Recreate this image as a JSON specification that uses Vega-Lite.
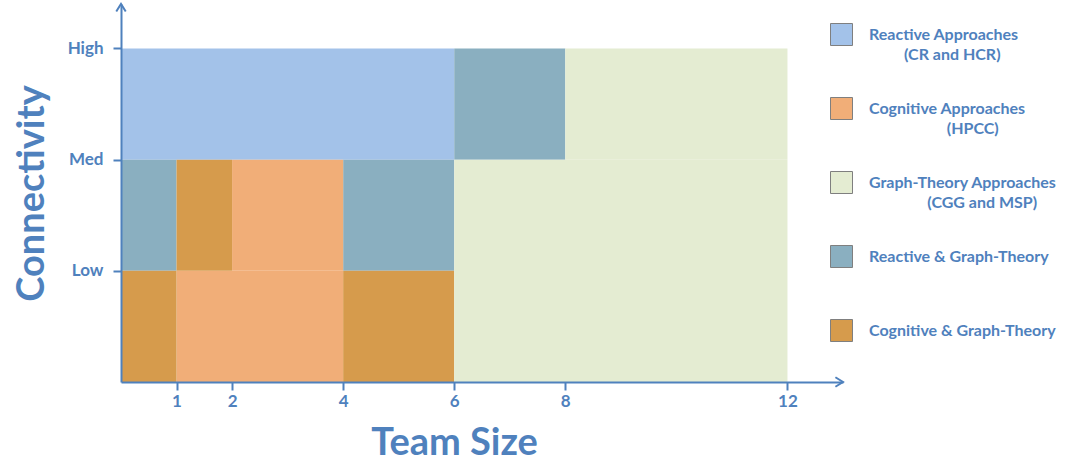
{
  "$schema": "https://vega.github.io/schema/vega-lite/v6.json",
  "autosize": "none",
  "width": 722,
  "height": 378,
  "padding": {"left": 121, "top": 4, "right": 235, "bottom": 80},
  "background": "white",
  "config": {"view": {"stroke": null}, "font": "Lato", "style": {"guide-label": {"lineHeight": 20}}},
  "layer": [
    {
      "data": {"values": [
        {"approach": "Reactive Approaches (CR and HCR)", "x0": 0, "x1": 6, "y0": 2, "y1": 3},
        {"approach": "Reactive & Graph-Theory", "x0": 6, "x1": 8, "y0": 2, "y1": 3},
        {"approach": "Reactive & Graph-Theory", "x0": 0, "x1": 1, "y0": 1, "y1": 2},
        {"approach": "Reactive & Graph-Theory", "x0": 4, "x1": 6, "y0": 1, "y1": 2},
        {"approach": "Cognitive Approaches (HPCC)", "x0": 2, "x1": 4, "y0": 1, "y1": 2},
        {"approach": "Cognitive Approaches (HPCC)", "x0": 1, "x1": 4, "y0": 0, "y1": 1},
        {"approach": "Cognitive & Graph-Theory", "x0": 1, "x1": 2, "y0": 1, "y1": 2},
        {"approach": "Cognitive & Graph-Theory", "x0": 0, "x1": 1, "y0": 0, "y1": 1},
        {"approach": "Cognitive & Graph-Theory", "x0": 4, "x1": 6, "y0": 0, "y1": 1},
        {"approach": "Graph-Theory Approaches (CGG and MSP)", "x0": 8, "x1": 12, "y0": 2, "y1": 3},
        {"approach": "Graph-Theory Approaches (CGG and MSP)", "x0": 6, "x1": 12, "y0": 0, "y1": 2}
      ]},
      "mark": {"type": "rect", "strokeWidth": 0},
      "encoding": {
        "x": {"field": "x0", "type": "quantitative", "title": "Team Size",
          "scale": {"domain": [0, 13], "nice": false, "zero": true},
          "axis": {"values": [1, 2, 4, 6, 8, 12], "format": "d", "grid": false, "zindex": 1,
            "domainColor": "#4F81BD", "domainWidth": 2, "tickColor": "#4F81BD", "tickWidth": 2, "tickSize": 8,
            "labelFont": "Lato", "labelFontWeight": "bold", "labelFontSize": 17, "labelColor": "#4F81BD", "labelPadding": 3,
            "titleFont": "Lato", "titleFontWeight": "bold", "titleFontSize": 38, "titleColor": "#4F81BD",
            "titleX": 333, "titleY": 72, "titleAlign": "center", "titleBaseline": "alphabetic", "titleAnchor": null}},
        "x2": {"field": "x1"},
        "y": {"field": "y0", "type": "quantitative", "title": "Connectivity",
          "scale": {"domain": [0, 3.4], "nice": false, "zero": true},
          "axis": {"values": [1, 2, 3], "grid": false, "zindex": 1,
            "labelExpr": "datum.value == 1 ? 'Low' : datum.value == 2 ? 'Med' : 'High'",
            "domainColor": "#4F81BD", "domainWidth": 2, "tickColor": "#4F81BD", "tickWidth": 2, "tickSize": 8,
            "labelFont": "Lato", "labelFontWeight": "bold", "labelFontSize": 17, "labelColor": "#4F81BD", "labelPadding": 10,
            "titleFont": "Lato", "titleFontWeight": "bold", "titleFontSize": 38, "titleColor": "#4F81BD",
            "titleAngle": 270, "titleX": -78, "titleY": 189, "titleAlign": "center", "titleBaseline": "alphabetic", "titleAnchor": null}},
        "y2": {"field": "y1"},
        "color": {"field": "approach", "type": "nominal",
          "scale": {
            "domain": ["Reactive Approaches (CR and HCR)", "Cognitive Approaches (HPCC)", "Graph-Theory Approaches (CGG and MSP)", "Reactive & Graph-Theory", "Cognitive & Graph-Theory"],
            "range": ["#A3C2E9", "#F1AE78", "#E4ECD2", "#8AAFC0", "#D69B4C"]},
          "legend": {"orient": "none", "legendX": 709, "legendY": 19, "title": null, "padding": 0,
            "symbolType": "square", "symbolSize": 484, "symbolStrokeColor": "#7F7F7F", "symbolStrokeWidth": 1, "symbolOpacity": 1,
            "labelFont": "Lato", "labelFontSize": 16, "labelFontWeight": "bold", "labelColor": "#4F81BD",
            "labelOffset": 16, "labelLimit": 400, "rowPadding": 32,
            "labelExpr": "datum.value == 'Reactive Approaches (CR and HCR)' ? ['Reactive Approaches', '\u200b\u00a0\u00a0\u00a0\u00a0\u00a0\u00a0\u00a0\u00a0\u00a0(CR and HCR)'] : datum.value == 'Cognitive Approaches (HPCC)' ? ['Cognitive Approaches', '\u200b\u00a0\u00a0\u00a0\u00a0\u00a0\u00a0\u00a0\u00a0\u00a0\u00a0\u00a0\u00a0\u00a0\u00a0\u00a0\u00a0\u00a0\u00a0\u00a0\u00a0(HPCC)'] : datum.value == 'Graph-Theory Approaches (CGG and MSP)' ? ['Graph-Theory Approaches', '\u200b\u00a0\u00a0\u00a0\u00a0\u00a0\u00a0\u00a0\u00a0\u00a0\u00a0\u00a0\u00a0\u00a0\u00a0\u00a0(CGG and MSP)'] : datum.value == 'Reactive & Graph-Theory' ? ['Reactive & Graph-Theory', '\u200b\u00a0\u200b'] : datum.label"}}
      }
    },
    {
      "data": {"values": [{"x": 13, "y": 0}]},
      "mark": {"type": "point", "shape": "M -1.6 -1 L 0 0 L -1.6 1", "filled": false, "stroke": "#4F81BD", "strokeWidth": 2, "size": 90, "opacity": 1},
      "encoding": {
        "x": {"field": "x", "type": "quantitative", "title": "Team Size"},
        "y": {"field": "y", "type": "quantitative", "title": "Connectivity"}
      }
    },
    {
      "data": {"values": [{"x": 0, "y": 3.4}]},
      "mark": {"type": "point", "shape": "M -1 1.6 L 0 0 L 1 1.6", "filled": false, "stroke": "#4F81BD", "strokeWidth": 2, "size": 90, "opacity": 1},
      "encoding": {
        "x": {"field": "x", "type": "quantitative", "title": "Team Size"},
        "y": {"field": "y", "type": "quantitative", "title": "Connectivity"}
      }
    }
  ]
}
